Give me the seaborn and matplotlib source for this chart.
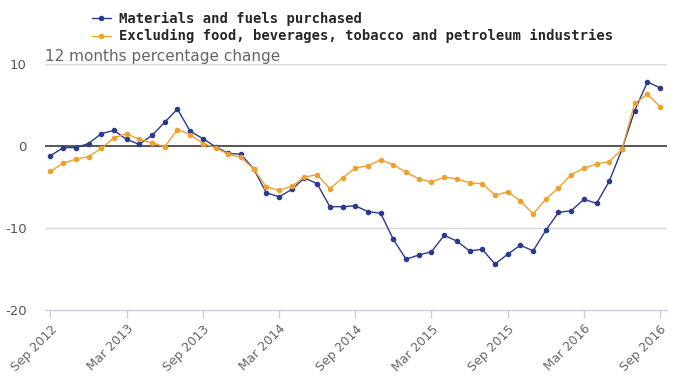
import matplotlib
matplotlib.use("Agg")
import matplotlib.pyplot as plt
import seaborn as sns
import pandas as pd

tick_labels = ["Sep 2012", "Mar 2013", "Sep 2013", "Mar 2014", "Sep 2014",
               "Mar 2015", "Sep 2015", "Mar 2016", "Sep 2016"]

materials = [-1.2, -0.2, -0.2, 0.3, 1.5, 1.9, 0.8, 0.2, 1.3, 2.9, 4.5, 1.8,
             0.9, -0.1, -0.9, -1.0, -2.8, -5.7, -6.2, -5.3, -3.9, -4.6, -7.4, -7.4,
             -7.3, -8.0, -8.2, -11.4, -13.8, -13.3, -12.9, -10.9, -11.6, -12.8, -12.6, -14.4,
             -13.2, -12.1, -12.8, -10.3, -8.1, -7.9, -6.5, -7.0, -4.3, -0.4, 4.3, 7.8,
             7.1]
excluding = [-3.1, -2.1, -1.6, -1.3, -0.3, 1.0, 1.5, 0.8, 0.4, -0.1, 2.0, 1.4,
             0.3, -0.2, -1.0, -1.4, -2.8, -5.0, -5.4, -4.9, -3.8, -3.5, -5.2, -3.9,
             -2.7, -2.4, -1.7, -2.3, -3.2, -4.0, -4.4, -3.8, -4.0, -4.5, -4.6, -6.0,
             -5.6, -6.7, -8.3, -6.5, -5.1, -3.5, -2.7, -2.2, -1.9, -0.4, 5.2, 6.3,
             4.8]
series_names = ["Materials and fuels purchased",
                "Excluding food, beverages, tobacco and petroleum industries"]
colors = ["#2b3a8c", "#eea12e"]

n = len(materials)
df = pd.DataFrame({
    "month": list(range(n)) * 2,
    "value": materials + excluding,
    "series": [series_names[0]] * n + [series_names[1]] * n,
})

sns.set_theme(style="white")
plt.rcParams["font.family"] = ["DejaVu Sans"]

fig = plt.figure(figsize=(6.94, 3.82), dpi=100)
ax = fig.add_axes([0.0648, 0.1885, 0.8962, 0.644])

sns.lineplot(data=df, x="month", y="value", hue="series", palette=colors,
             marker="o", markersize=4, markeredgewidth=0, linewidth=1.0,
             ax=ax, legend=True)

ax.set_xlim(-0.43, 48.54)
ax.set_ylim(-20, 10)
ax.set_yticks([10, 0, -10, -20])
ax.set_yticklabels(["10", "0", "-10", "-20"])
ax.set_xticks(list(range(0, n, 6)))
ax.set_xticklabels(tick_labels, rotation=45, ha="right", rotation_mode="anchor")
ax.set_xlabel("")
ax.set_ylabel("")

for y in [10, -10]:
    ax.axhline(y, color="#d9d9d9", linewidth=1.0, zorder=0)
ax.axhline(0, color="#555555", linewidth=1.4, zorder=1)

for s in ["top", "right", "left"]:
    ax.spines[s].set_visible(False)
ax.spines["bottom"].set_color("#c8cce0")
ax.spines["bottom"].set_linewidth(1.0)

ax.tick_params(axis="x", bottom=True, length=6, width=1, color="#c8cce0",
               labelsize=9, labelcolor="#666666", pad=3)
ax.tick_params(axis="y", left=False, length=0, labelsize=9.5,
               labelcolor="#555555", pad=13)

ax.text(0.0, 1.0, "12 months percentage change", transform=ax.transAxes,
        fontsize=11, color="#666666", ha="left", va="bottom")

handles, labels = ax.get_legend_handles_labels()
ax.legend(handles, labels, loc="upper left", bbox_to_anchor=(0.118, 0.995),
          bbox_transform=fig.transFigure, frameon=False, handlelength=1.4,
          handletextpad=0.6, labelspacing=0.25, borderaxespad=0.3,
          prop={"family": "DejaVu Sans Mono", "weight": "bold", "size": 10})

fig.savefig("out.png", dpi=100)
